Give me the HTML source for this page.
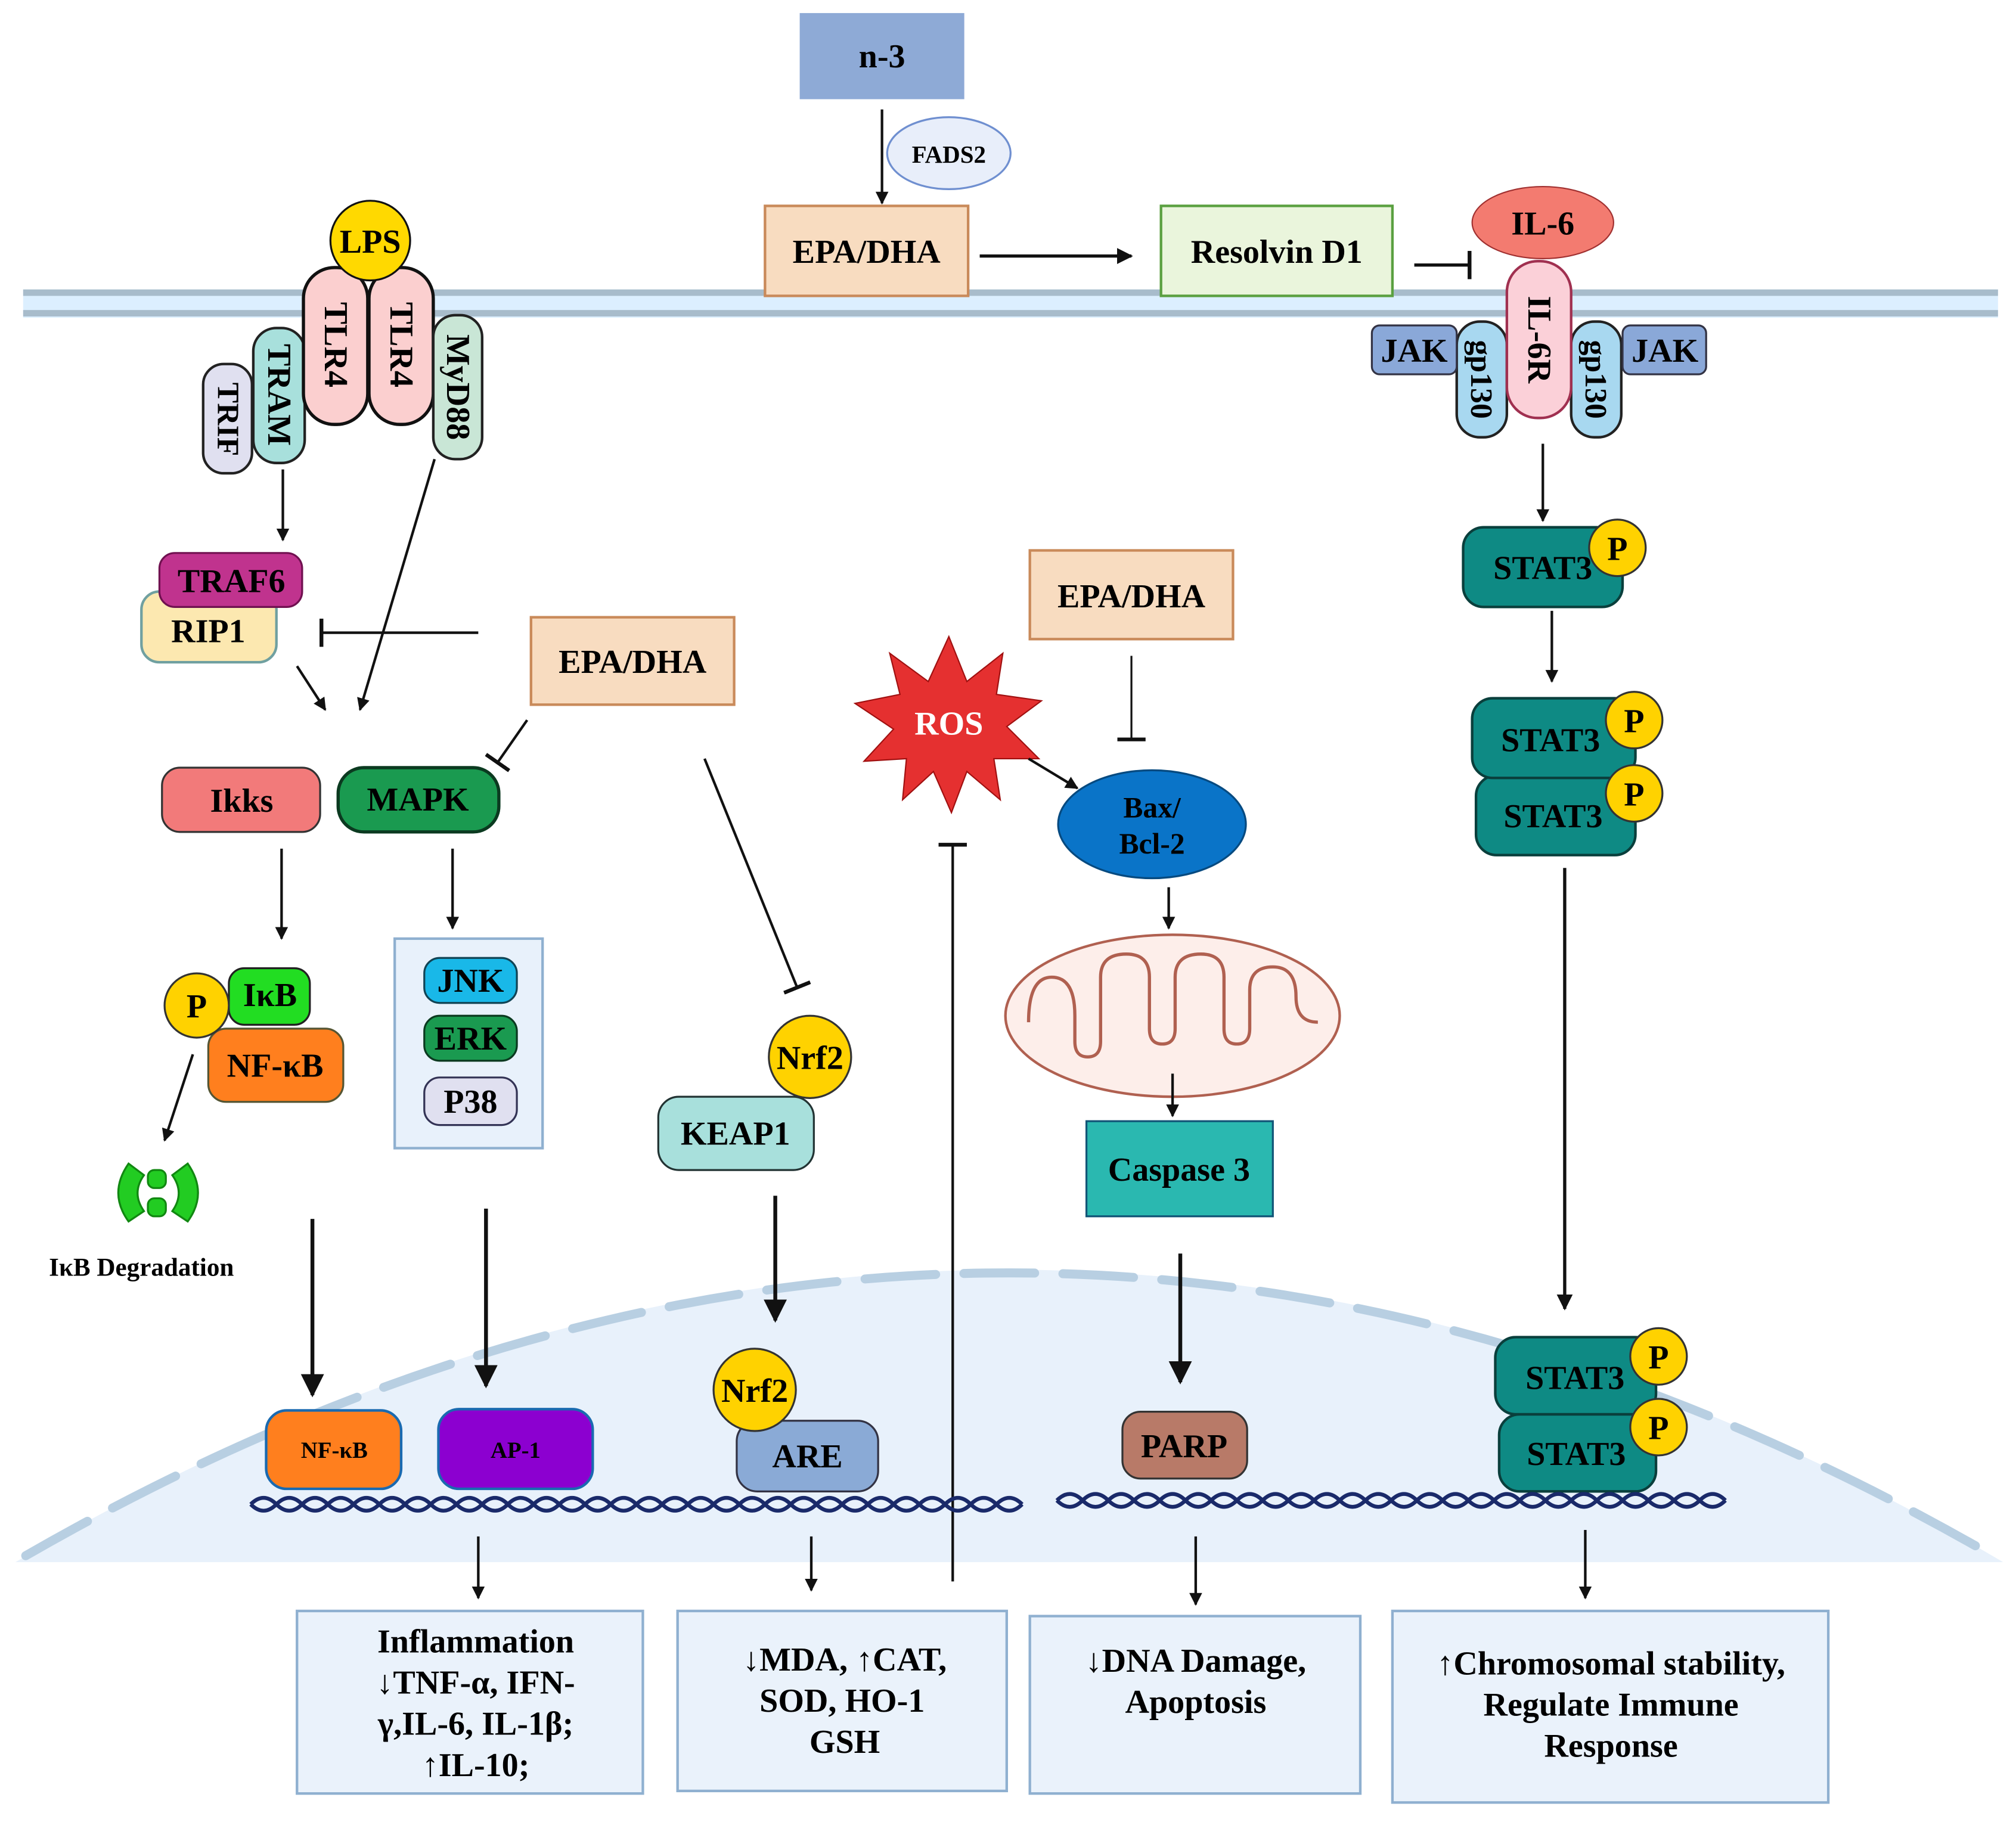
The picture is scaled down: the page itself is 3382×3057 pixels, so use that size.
<!DOCTYPE html>
<html><head><meta charset="utf-8"><style>html,body{margin:0;padding:0;background:#fff}svg{display:block}text{font-family:"Liberation Serif","DejaVu Serif",serif;font-weight:bold;text-anchor:middle;dominant-baseline:central}</style></head><body>
<svg width="3382" height="3057" viewBox="0 0 1568 1417" xmlns="http://www.w3.org/2000/svg">
<defs>
<marker id="a" viewBox="0 0 10 10" refX="9" refY="5" markerWidth="6" markerHeight="6" orient="auto"><path d="M0,0 L10,5 L0,10 z" fill="#111"/></marker>
<marker id="b" viewBox="0 0 10 10" refX="9" refY="5" markerWidth="5" markerHeight="5" orient="auto"><path d="M0,0 L10,5 L0,10 z" fill="#111"/></marker>
<marker id="t" viewBox="0 0 3 22" refX="1.5" refY="11" markerWidth="3" markerHeight="22" markerUnits="userSpaceOnUse" orient="auto"><rect x="0" y="0" width="3" height="22" fill="#111"/></marker>
</defs>
<path d="M12,1215 Q785,760 1558,1215 Z" fill="#e8f1fb"/>
<path d="M20,1210 Q785,770 1550,1210" fill="none" stroke="#b8cfe2" stroke-width="7" stroke-dasharray="55,22" stroke-linecap="round"/>
<rect x="18" y="225" width="1536" height="22" fill="#dcefff"/>
<rect x="18" y="225" width="1536" height="5" fill="#a8bccb"/>
<rect x="18" y="241" width="1536" height="5" fill="#a8bccb"/>
<g font-size="26" font-family="Liberation Serif, DejaVu Serif, serif" font-weight="bold">
<rect x="622" y="10" width="128" height="67" fill="#8eaad6"/><text x="686" y="44">n-3</text>
<line x1="686" y1="85" x2="686" y2="158" stroke="#111" stroke-width="2" marker-end="url(#b)"/>
<ellipse cx="738" cy="119" rx="48" ry="28" fill="#e8eefa" stroke="#6f8fd0" stroke-width="1.5"/><text x="738" y="120" font-size="19">FADS2</text>
<rect x="595" y="160" width="158" height="70" fill="#f8dcc0" stroke="#c98a5a" stroke-width="2"/><text x="674" y="196">EPA/DHA</text>
<line x1="762" y1="199" x2="880" y2="199" stroke="#111" stroke-width="2.5" marker-end="url(#b)"/>
<rect x="903" y="160" width="180" height="70" fill="#eaf5dc" stroke="#5aa040" stroke-width="2"/><text x="993" y="196">Resolvin D1</text>
<line x1="1100" y1="206" x2="1143" y2="206" stroke="#111" stroke-width="2.5" marker-end="url(#t)"/>
<rect x="1133" y="250" width="39" height="90" rx="18" fill="#a8d8f0" stroke="#222" stroke-width="2"/>
<rect x="1222" y="250" width="39" height="90" rx="18" fill="#a8d8f0" stroke="#222" stroke-width="2"/>
<text transform="translate(1152,295) rotate(90)" font-size="24">gp130</text>
<text transform="translate(1241,295) rotate(90)" font-size="24">gp130</text>
<rect x="1067" y="253" width="66" height="38" rx="6" fill="#8aa8d8" stroke="#334" stroke-width="1.5"/><text x="1100" y="273">JAK</text>
<rect x="1262" y="253" width="65" height="38" rx="6" fill="#8aa8d8" stroke="#334" stroke-width="1.5"/><text x="1295" y="273">JAK</text>
<rect x="1172" y="203" width="50" height="122" rx="24" fill="#fbd0d8" stroke="#a03050" stroke-width="2"/>
<text transform="translate(1197,264) rotate(90)">IL-6R</text>
<ellipse cx="1200" cy="173" rx="55" ry="28" fill="#f37b70" stroke="#a03030" stroke-width="1"/><text x="1200" y="174">IL-6</text>
<line x1="1200" y1="345" x2="1200" y2="405" stroke="#111" stroke-width="2" marker-end="url(#b)"/>
<rect x="1138" y="410" width="124" height="62" rx="16" fill="#0e8a84" stroke="#0a3f3c" stroke-width="2"/><text x="1200" y="442">STAT3</text>
<circle cx="1258" cy="426" r="22" fill="#ffd200" stroke="#333" stroke-width="1.5"/><text x="1258" y="427">P</text>
<line x1="1207" y1="475" x2="1207" y2="530" stroke="#111" stroke-width="2" marker-end="url(#b)"/>
<rect x="1148" y="603" width="124" height="62" rx="16" fill="#0e8a84" stroke="#0a3f3c" stroke-width="2"/><text x="1208" y="635">STAT3</text>
<rect x="1145" y="543" width="127" height="62" rx="16" fill="#0e8a84" stroke="#0a3f3c" stroke-width="2"/><text x="1206" y="576">STAT3</text>
<circle cx="1271" cy="560" r="22" fill="#ffd200" stroke="#333" stroke-width="1.5"/><text x="1271" y="561">P</text>
<circle cx="1271" cy="617" r="22" fill="#ffd200" stroke="#333" stroke-width="1.5"/><text x="1271" y="618">P</text>
<line x1="1217" y1="675" x2="1217" y2="1018" stroke="#111" stroke-width="2.5" marker-end="url(#b)"/>
<rect x="1166" y="1100" width="122" height="60" rx="16" fill="#0e8a84" stroke="#0a3f3c" stroke-width="2"/><text x="1226" y="1131">STAT3</text>
<rect x="1163" y="1040" width="125" height="60" rx="16" fill="#0e8a84" stroke="#0a3f3c" stroke-width="2"/><text x="1225" y="1072">STAT3</text>
<circle cx="1290" cy="1055" r="22" fill="#ffd200" stroke="#333" stroke-width="1.5"/><text x="1290" y="1056">P</text>
<circle cx="1290" cy="1110" r="22" fill="#ffd200" stroke="#333" stroke-width="1.5"/><text x="1290" y="1111">P</text>
<rect x="158" y="283" width="38" height="85" rx="16" fill="#e0e0f0" stroke="#222" stroke-width="2"/><text transform="translate(177,326) rotate(90)" font-size="24">TRIF</text>
<rect x="197" y="255" width="40" height="105" rx="18" fill="#a8e0dc" stroke="#222" stroke-width="2"/><text transform="translate(217,307) rotate(90)">TRAM</text>
<rect x="236" y="208" width="50" height="122" rx="24" fill="#fbcfcf" stroke="#111" stroke-width="2.5"/><text transform="translate(261,268) rotate(90)">TLR4</text>
<rect x="287" y="208" width="50" height="122" rx="24" fill="#fbcfcf" stroke="#111" stroke-width="2.5"/><text transform="translate(312,268) rotate(90)">TLR4</text>
<rect x="337" y="245" width="38" height="112" rx="17" fill="#c9e6d6" stroke="#222" stroke-width="2"/><text transform="translate(356,301) rotate(90)">MyD88</text>
<ellipse cx="288" cy="187" rx="31" ry="31" fill="#ffd900" stroke="#111" stroke-width="1.5"/><text x="288" y="188">LPS</text>
<line x1="220" y1="365" x2="220" y2="420" stroke="#111" stroke-width="2" marker-end="url(#b)"/>
<rect x="110" y="460" width="105" height="55" rx="14" fill="#fce8b0" stroke="#70a0a0" stroke-width="2"/><text x="162" y="491">RIP1</text>
<rect x="124" y="430" width="111" height="42" rx="12" fill="#c0338e" stroke="#701050" stroke-width="1.5"/><text x="180" y="452">TRAF6</text>
<line x1="372" y1="492" x2="250" y2="492" stroke="#111" stroke-width="2" marker-end="url(#t)"/>
<rect x="413" y="480" width="158" height="68" fill="#f8dcc0" stroke="#c98a5a" stroke-width="2"/><text x="492" y="515">EPA/DHA</text>
<line x1="231" y1="518" x2="253" y2="552" stroke="#111" stroke-width="2" marker-end="url(#b)"/>
<line x1="338" y1="357" x2="280" y2="552" stroke="#111" stroke-width="2" marker-end="url(#b)"/>
<rect x="126" y="597" width="123" height="50" rx="14" fill="#f27a7a" stroke="#333" stroke-width="1.5"/><text x="188" y="623">Ikks</text>
<rect x="263" y="597" width="125" height="50" rx="20" fill="#1a9a50" stroke="#0b3a20" stroke-width="2.5"/><text x="325" y="622">MAPK</text>
<line x1="410" y1="560" x2="387" y2="593" stroke="#111" stroke-width="2" marker-end="url(#t)"/>
<line x1="219" y1="660" x2="219" y2="730" stroke="#111" stroke-width="2" marker-end="url(#b)"/>
<line x1="352" y1="660" x2="352" y2="722" stroke="#111" stroke-width="2" marker-end="url(#b)"/>
<rect x="307" y="730" width="115" height="163" fill="#e8f1fb" stroke="#8fb0d0" stroke-width="2"/>
<rect x="330" y="745" width="72" height="35" rx="12" fill="#19b8e8" stroke="#145" stroke-width="1.5"/><text x="366" y="763">JNK</text>
<rect x="330" y="790" width="72" height="35" rx="12" fill="#1a9a50" stroke="#0b3a20" stroke-width="1.5"/><text x="366" y="808">ERK</text>
<rect x="330" y="838" width="72" height="37" rx="12" fill="#e0e0f0" stroke="#335" stroke-width="1.5"/><text x="366" y="857">P38</text>
<rect x="178" y="753" width="63" height="44" rx="12" fill="#22dd22" stroke="#222" stroke-width="1.5"/><text x="210" y="774">IκB</text>
<rect x="162" y="800" width="105" height="57" rx="14" fill="#ff7f1e" stroke="#553" stroke-width="1.5"/><text x="214" y="829">NF-κB</text>
<circle cx="153" cy="782" r="25" fill="#ffd200" stroke="#333" stroke-width="1.5"/><text x="153" y="783">P</text>
<line x1="150" y1="820" x2="128" y2="887" stroke="#111" stroke-width="2" marker-end="url(#b)"/>
<g fill="#22cc22" stroke="#118811" stroke-width="1.5">
<path d="M100,905 Q84,928 100,950 L112,942 Q102,928 112,914 Z"/><path d="M146,905 Q162,928 146,950 L134,942 Q144,928 134,914 Z"/>
<rect x="115" y="910" width="14" height="14" rx="5"/><rect x="115" y="932" width="14" height="14" rx="5"/></g>
<text x="110" y="986" font-size="20">IκB Degradation</text>
<line x1="243" y1="948" x2="243" y2="1085" stroke="#111" stroke-width="3" marker-end="url(#a)"/>
<line x1="378" y1="940" x2="378" y2="1078" stroke="#111" stroke-width="3" marker-end="url(#a)"/>
<rect x="207" y="1097" width="105" height="61" rx="16" fill="#ff7f1e" stroke="#1a6ab0" stroke-width="2"/><text x="260" y="1128" font-size="18">NF-κB</text>
<rect x="341" y="1096" width="120" height="62" rx="16" fill="#8c00d0" stroke="#1a6ab0" stroke-width="2"/><text x="401" y="1128" font-size="18">AP-1</text>
<line x1="548" y1="590" x2="620" y2="768" stroke="#111" stroke-width="2" marker-end="url(#t)"/>
<rect x="512" y="853" width="121" height="57" rx="16" fill="#a8e0dc" stroke="#233" stroke-width="1.5"/><text x="572" y="882">KEAP1</text>
<circle cx="630" cy="822" r="32" fill="#ffd200" stroke="#333" stroke-width="1.5"/><text x="630" y="823">Nrf2</text>
<line x1="603" y1="930" x2="603" y2="1027" stroke="#111" stroke-width="3" marker-end="url(#a)"/>
<rect x="573" y="1105" width="110" height="55" rx="16" fill="#8aaad6" stroke="#334" stroke-width="1.5"/><text x="628" y="1133">ARE</text>
<circle cx="587" cy="1081" r="32" fill="#ffd200" stroke="#333" stroke-width="1.5"/><text x="587" y="1082">Nrf2</text>
<line x1="741" y1="1230" x2="741" y2="657" stroke="#111" stroke-width="2" marker-end="url(#t)"/>
<path d="M738,495 L752,530 L780,508 L775,540 L810,545 L783,565 L808,590 L773,590 L778,622 L752,600 L740,632 L726,600 L702,622 L705,590 L672,592 L695,567 L665,547 L700,540 L692,508 L722,530 Z" fill="#e53030" stroke="#a01010" stroke-width="1"/>
<text x="738" y="563" fill="#fff">ROS</text>
<rect x="801" y="428" width="158" height="69" fill="#f8dcc0" stroke="#c98a5a" stroke-width="2"/><text x="880" y="464">EPA/DHA</text>
<line x1="880" y1="510" x2="880" y2="575" stroke="#111" stroke-width="1.5" marker-end="url(#t)"/>
<line x1="800" y1="590" x2="838" y2="613" stroke="#111" stroke-width="2" marker-end="url(#b)"/>
<ellipse cx="896" cy="641" rx="73" ry="42" fill="#0a74c8" stroke="#064a80" stroke-width="1.5"/>
<text x="896" y="628" font-size="23">Bax/</text><text x="896" y="656" font-size="23">Bcl-2</text>
<line x1="909" y1="690" x2="909" y2="722" stroke="#111" stroke-width="2" marker-end="url(#b)"/>
<ellipse cx="912" cy="790" rx="130" ry="63" fill="#fdeeea" stroke="#b06050" stroke-width="2"/>
<path d="M800,795 Q800,760 818,760 Q836,760 836,790 L836,810 Q836,822 846,822 Q856,822 856,810 L856,760 Q856,742 876,742 Q894,742 894,760 L894,800 Q894,812 904,812 Q914,812 914,800 L914,760 Q914,742 934,742 Q952,742 952,760 L952,800 Q952,812 962,812 Q972,812 972,800 L972,770 Q972,752 990,752 Q1008,752 1008,775 Q1008,795 1025,795" fill="none" stroke="#b06050" stroke-width="2.5"/>
<line x1="912" y1="835" x2="912" y2="868" stroke="#111" stroke-width="2" marker-end="url(#b)"/>
<rect x="845" y="872" width="145" height="74" fill="#2ab8b0" stroke="#157" stroke-width="1.5"/><text x="917" y="910">Caspase 3</text>
<line x1="918" y1="975" x2="918" y2="1075" stroke="#111" stroke-width="3" marker-end="url(#a)"/>
<rect x="873" y="1098" width="97" height="52" rx="14" fill="#b87a68" stroke="#333" stroke-width="1.5"/><text x="921" y="1125">PARP</text>
<g fill="none" stroke="#1a2a6a" stroke-width="3">
<path d="M195,1170 q10,-10 20,0 t20,0 t20,0 t20,0 t20,0 t20,0 t20,0 t20,0 t20,0 t20,0 t20,0 t20,0 t20,0 t20,0 t20,0 t20,0 t20,0 t20,0 t20,0 t20,0 t20,0 t20,0 t20,0 t20,0 t20,0 t20,0 t20,0 t20,0 t20,0 t20,0"/>
<path d="M195,1170 q10,10 20,0 t20,0 t20,0 t20,0 t20,0 t20,0 t20,0 t20,0 t20,0 t20,0 t20,0 t20,0 t20,0 t20,0 t20,0 t20,0 t20,0 t20,0 t20,0 t20,0 t20,0 t20,0 t20,0 t20,0 t20,0 t20,0 t20,0 t20,0 t20,0 t20,0"/>
<path d="M822,1167 q10,-10 20,0 t20,0 t20,0 t20,0 t20,0 t20,0 t20,0 t20,0 t20,0 t20,0 t20,0 t20,0 t20,0 t20,0 t20,0 t20,0 t20,0 t20,0 t20,0 t20,0 t20,0 t20,0 t20,0 t20,0 t20,0 t20,0"/>
<path d="M822,1167 q10,10 20,0 t20,0 t20,0 t20,0 t20,0 t20,0 t20,0 t20,0 t20,0 t20,0 t20,0 t20,0 t20,0 t20,0 t20,0 t20,0 t20,0 t20,0 t20,0 t20,0 t20,0 t20,0 t20,0 t20,0 t20,0 t20,0"/>
</g>
<line x1="372" y1="1195" x2="372" y2="1243" stroke="#111" stroke-width="2" marker-end="url(#b)"/>
<line x1="631" y1="1195" x2="631" y2="1237" stroke="#111" stroke-width="2" marker-end="url(#b)"/>
<line x1="930" y1="1195" x2="930" y2="1248" stroke="#111" stroke-width="2" marker-end="url(#b)"/>
<line x1="1233" y1="1190" x2="1233" y2="1243" stroke="#111" stroke-width="2" marker-end="url(#b)"/>
<rect x="231" y="1253" width="269" height="142" fill="#eaf2fb" stroke="#8fb0d0" stroke-width="2"/>
<text x="370" y="1277">Inflammation</text><text x="370" y="1309">↓TNF-α, IFN-</text><text x="370" y="1341">γ,IL-6, IL-1β;</text><text x="370" y="1373">↑IL-10;</text>
<rect x="527" y="1253" width="256" height="140" fill="#eaf2fb" stroke="#8fb0d0" stroke-width="2"/>
<text x="657" y="1291">↓MDA, ↑CAT,</text><text x="655" y="1323">SOD,  HO-1</text><text x="657" y="1355">GSH</text>
<rect x="801" y="1257" width="257" height="138" fill="#eaf2fb" stroke="#8fb0d0" stroke-width="2"/>
<text x="930" y="1292">↓DNA Damage,</text><text x="930" y="1324">Apoptosis</text>
<rect x="1083" y="1253" width="339" height="149" fill="#eaf2fb" stroke="#8fb0d0" stroke-width="2"/>
<text x="1253" y="1294">↑Chromosomal stability,</text><text x="1253" y="1326">Regulate Immune</text><text x="1253" y="1358">Response</text>
</g>
</svg>
</body></html>
